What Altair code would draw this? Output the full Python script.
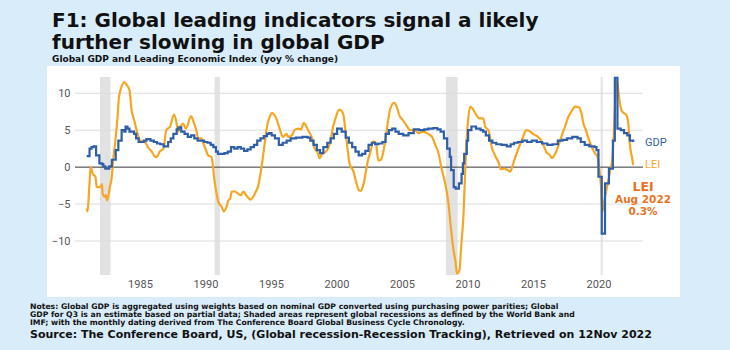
import altair as alt
import pandas as pd

# ---------------- data ----------------
lei_year = [1980.93, 1981.0, 1981.13, 1981.23, 1981.4, 1981.6, 1981.7, 1981.95, 1982.1, 1982.15,
            1982.3, 1982.4, 1982.5, 1982.7, 1982.85, 1982.95, 1983.1, 1983.27, 1983.4, 1983.6,
            1983.8, 1984.0, 1984.2, 1984.36, 1984.55, 1984.75, 1985.0, 1985.4, 1985.6, 1985.9,
            1986.15, 1986.3, 1986.5, 1986.8, 1987.0, 1987.3, 1987.4, 1987.6, 1987.8, 1987.9,
            1988.1, 1988.3, 1988.5, 1988.9, 1989.1, 1989.3, 1989.45, 1989.7, 1989.8, 1990.0,
            1990.2, 1990.45, 1990.55, 1990.65, 1990.85, 1990.98, 1991.25, 1991.4, 1991.6, 1991.75,
            1991.9, 1992.0, 1992.25, 1992.5, 1992.7, 1992.9, 1993.1, 1993.3, 1993.45, 1993.65,
            1993.85, 1994.0, 1994.2, 1994.35, 1994.55, 1994.7, 1994.9, 1995.1, 1995.4, 1995.7,
            1995.9, 1996.2, 1996.3, 1996.6, 1996.8, 1997.1, 1997.3, 1997.5, 1997.7, 1997.9,
            1998.1, 1998.3, 1998.6, 1998.7, 1998.9, 1999.2, 1999.5, 1999.75, 2000.0, 2000.2,
            2000.5, 2000.65, 2000.8, 2001.0, 2001.3, 2001.5, 2001.7, 2001.85, 2002.05, 2002.25,
            2002.4, 2002.6, 2002.8, 2003.0, 2003.2, 2003.4, 2003.6, 2003.8, 2003.95, 2004.1,
            2004.4, 2004.6, 2004.8, 2005.05, 2005.4, 2005.6, 2006.0, 2006.25, 2006.6, 2007.0,
            2007.3, 2007.5, 2007.8, 2008.0, 2008.3, 2008.55, 2008.7, 2008.9, 2009.1, 2009.2,
            2009.4, 2009.5, 2009.7, 2009.8, 2009.9, 2010.05, 2010.2, 2010.4, 2010.7, 2010.9,
            2011.2, 2011.35, 2011.6, 2011.85, 2012.1, 2012.4, 2012.55, 2012.8, 2013.05, 2013.25,
            2013.5, 2013.7, 2014.0, 2014.2, 2014.5, 2014.8, 2015.0, 2015.3, 2015.5, 2015.8,
            2016.0, 2016.3, 2016.45, 2016.7, 2017.0, 2017.2, 2017.45, 2017.7, 2018.0, 2018.2,
            2018.5, 2018.7, 2018.85, 2019.05, 2019.2, 2019.5, 2019.75, 2019.9, 2020.05, 2020.2,
            2020.3, 2020.4, 2020.55, 2020.75, 2020.9, 2021.05, 2021.2, 2021.3, 2021.4, 2021.6,
            2021.75, 2021.95, 2022.15, 2022.3, 2022.4, 2022.55, 2022.65]
lei_value = [-5.6, -6.0, -2.7, 0.0, -0.9, -1.3, -2.7, -2.7, -2.3, -3.6,
             -4.0, -3.8, -4.5, -2.7, -1.3, 0.9, 3.2, 6.4, 9.5, 10.9,
             11.5, 11.1, 10.4, 7.7, 6.4, 5.0, 3.6, 3.4, 2.7, 2.1,
             1.4, 1.4, 2.1, 2.5, 5.0, 5.5, 6.1, 7.1, 5.9, 4.8,
             5.5, 5.9, 5.2, 6.9, 6.1, 5.0, 3.9, 3.9, 3.4, 2.5,
             1.6, 1.4, 0.5, -1.3, -3.6, -4.7, -5.4, -6.0, -5.4, -4.5,
             -4.2, -3.3, -3.3, -3.6, -3.8, -3.3, -3.8, -4.2, -4.4, -4.0,
             -3.3, -2.7, -0.9, 0.9, 3.6, 5.5, 6.8, 7.3, 6.6, 5.0,
             4.1, 4.5, 4.1, 4.3, 5.0, 5.2, 5.1, 6.0, 5.5, 4.8,
             4.1, 2.7, 1.8, 1.2, 1.8, 2.1, 3.2, 5.5, 7.0, 7.8,
             7.3, 5.5, 3.2, 0.5, -0.6, -2.0, -3.1, -3.2, -2.4, -0.6,
             0.9, 2.1, 3.5, 3.3, 0.9, 1.0, 2.3, 4.5, 6.4, 7.9,
             8.7, 8.2, 7.0, 6.4, 5.5, 5.0, 5.0, 4.6, 4.8, 4.5,
             4.1, 3.2, 1.8, 0.0, -2.2, -4.9, -7.6, -10.8, -13.0, -14.4,
             -13.9, -11.2, -6.3, -1.8, 2.7, 6.4, 8.2, 7.9, 7.0, 6.6,
             6.6, 5.5, 5.0, 2.7, 1.6, 0.5, -0.3, -0.2, -0.4, -0.6,
             0.5, 1.6, 3.0, 3.9, 5.0, 4.8, 4.5, 4.2, 3.9, 3.0,
             2.1, 1.6, 1.2, 1.8, 3.2, 4.3, 5.5, 6.8, 7.7, 8.2,
             8.1, 7.3, 5.9, 5.0, 4.1, 2.7, 1.8, 1.6, 0.0, -2.7,
             -6.0, -5.0, -3.6, -1.8, -0.4, 0.9, 5.5, 10.0, 11.8, 9.1,
             7.7, 7.3, 7.0, 5.5, 3.0, 1.4, 0.3]

gdp_year = [1980.93, 1981.15, 1981.3, 1981.45, 1981.65, 1981.9, 1982.1, 1982.2, 1982.35, 1982.65,
            1982.85, 1983.15, 1983.35, 1983.6, 1983.8, 1983.9, 1984.05, 1984.2, 1984.55, 1984.7,
            1984.9, 1985.3, 1985.5, 1985.8, 1986.05, 1986.3, 1986.55, 1986.8, 1987.15, 1987.35,
            1987.55, 1987.8, 1987.95, 1988.15, 1988.4, 1988.65, 1988.9, 1989.15, 1989.4, 1989.9,
            1990.15, 1990.4, 1990.6, 1990.8, 1990.95, 1991.45, 1991.7, 1991.95, 1992.2, 1992.45,
            1992.7, 1992.95, 1993.2, 1993.45, 1993.7, 1993.95, 1994.2, 1994.45, 1994.7, 1994.85,
            1995.05, 1995.3, 1995.6, 1995.9, 1996.2, 1996.5, 1996.9, 1997.4, 1997.8, 1998.0,
            1998.25, 1998.5, 1998.75, 1999.0, 1999.3, 1999.55, 1999.8, 2000.05, 2000.4, 2000.7,
            2000.95, 2001.2, 2001.45, 2001.7, 2001.95, 2002.2, 2002.45, 2002.7, 2002.95, 2003.2,
            2003.5, 2003.75, 2004.0, 2004.25, 2004.5, 2004.75, 2005.1, 2005.5, 2005.9, 2006.3,
            2006.7, 2007.0, 2007.4, 2007.7, 2007.95, 2008.2, 2008.45, 2008.65, 2008.75, 2008.95,
            2009.1, 2009.35, 2009.55, 2009.65, 2009.75, 2009.95, 2010.05, 2010.3, 2010.65, 2011.0,
            2011.2, 2011.4, 2011.65, 2011.9, 2012.2, 2012.6, 2013.0, 2013.3, 2013.55, 2013.85,
            2014.2, 2014.55, 2014.9, 2015.3, 2015.7, 2016.1, 2016.5, 2016.9, 2017.25, 2017.6,
            2018.0, 2018.4, 2018.65, 2018.95, 2019.3, 2019.7, 2019.85, 2020.0, 2020.25, 2020.5,
            2020.8, 2021.1, 2021.25, 2021.45, 2021.7, 2021.95, 2022.2, 2022.4, 2022.65]
gdp_value = [1.5, 2.5, 2.7, 2.8, 1.6, 0.5, 0.4, 0.1, -0.2, 0.1,
             1.0, 2.3, 3.6, 5.0, 4.8, 5.5, 5.2, 4.8, 4.5, 3.9,
             3.4, 3.6, 3.8, 3.6, 3.4, 3.2, 3.1, 2.8, 3.4, 3.9,
             4.5, 5.1, 5.4, 4.8, 4.5, 4.1, 4.3, 3.9, 3.6, 3.4,
             3.3, 3.0, 2.7, 2.1, 1.8, 1.9, 2.1, 2.7, 2.5, 2.7,
             2.5, 2.2, 2.4, 2.7, 3.0, 3.6, 3.9, 4.2, 4.5, 4.6,
             4.3, 3.9, 3.0, 3.3, 3.6, 3.9, 4.0, 4.1, 4.0, 3.6,
             3.0, 2.3, 1.9, 2.7, 3.3, 3.9, 4.5, 5.2, 4.8, 4.0,
             3.3, 2.7, 2.1, 1.6, 1.8, 2.2, 3.0, 3.3, 3.1, 3.2,
             3.4, 4.5, 5.0, 5.2, 4.8, 4.5, 4.3, 4.6, 5.1, 5.0,
             5.1, 5.2, 5.3, 5.1, 4.8, 3.9, 2.5, 1.4, -0.4, -2.7,
             -2.9, -2.2, -0.9, 0.5, 1.8, 3.6, 5.0, 5.5, 5.2, 5.0,
             4.8, 4.3, 3.6, 3.3, 3.1, 3.0, 2.8, 3.1, 3.3, 3.4,
             3.6, 3.4, 3.6, 3.4, 3.2, 3.0, 3.1, 3.6, 3.7, 3.9,
             4.1, 3.9, 3.4, 3.0, 2.8, 2.7, 2.3, -1.3, -9.0, -2.2,
             -0.2, 3.6, 12.1, 5.2, 5.0, 4.6, 4.3, 3.6, 3.4]

rec_start = [1981.95, 1990.7, 2008.35, 2020.17]
rec_end = [1982.75, 1991.1, 2009.25, 2020.32]

x_ticks = [1985, 1990, 1995, 2000, 2005, 2010, 2015, 2020]
y_ticks = [-10, -5, 5, 10]

series_names = ["GDP", "LEI"]
series_label_value = [3.2, 0.3]
series_colors = ["#2f5fa8", "#f5a623"]

annot_lines = ["LEI", "Aug 2022", "0.3%"]
annot_value = [-2.7, -4.5, -6.1]
annot_size = [12.5, 10.5, 10.5]

title_lines = ["F1: Global leading indicators signal a likely", "further slowing in global GDP"]
subtitle = "Global GDP and Leading Economic Index (yoy % change)"
notes = ["Notes: Global GDP is aggregated using weights based on nominal GDP converted using purchasing power parities; Global",
         "GDP for Q3 is an estimate based on partial data; Shaded areas represent global recessions as defined by the World Bank and",
         "IMF; with the monthly dating derived from The Conference Board Global Business Cycle Chronology."]
source = "Source: The Conference Board, US, (Global recession-Recession Tracking), Retrieved on 12Nov 2022"

X_DOM = [1980.04, 2023.4]
Y_DOM = [-14.6, 12.2]
W, H = 568, 198

# ---------------- frames ----------------
lei_df = pd.DataFrame({"year": lei_year, "value": lei_value, "series": "LEI"})
gdp_df = pd.DataFrame({"year": gdp_year, "value": gdp_value, "series": "GDP"})
rec_df = pd.DataFrame({"start": rec_start, "end": rec_end})
grid_df = pd.DataFrame({"v": y_ticks})
lab_df = pd.DataFrame({"series": series_names, "value": series_label_value,
                       "year": [X_DOM[1]] * 2, "color": series_colors})
ann_df = pd.DataFrame({"t": annot_lines, "value": annot_value, "size": annot_size,
                       "year": [X_DOM[1]] * 3})

xs = alt.Scale(domain=X_DOM, nice=False, zero=False)
ys = alt.Scale(domain=Y_DOM, nice=False, zero=False)

base_x = alt.X("year:Q", scale=xs,
               axis=alt.Axis(values=x_ticks, format="d", grid=False, domain=False, ticks=False,
                             labelFont="Roboto", labelFontSize=11, labelColor="#555",
                             labelPadding=3, title=None, zindex=1))
base_y = alt.Y("value:Q", scale=ys,
               axis=alt.Axis(values=[-10, -5, 0, 5, 10], grid=False, domain=False, ticks=False,
                             labelFont="Roboto", labelFontSize=11, labelColor="#555",
                             labelPadding=5, title=None, zindex=1))

panel = alt.Chart(pd.DataFrame({"a": [0]})).mark_rect(color="white").encode(
    x=alt.value(-28), x2=alt.value(605), y=alt.value(-11), y2=alt.value(220))

bands = alt.Chart(rec_df).mark_rect(color="#e2e2e2").encode(
    x=alt.X("start:Q", scale=xs), x2="end:Q")

grid = alt.Chart(grid_df).mark_rule(color="#dcdcdc", strokeWidth=1).encode(
    y=alt.Y("v:Q", scale=ys))

zero = alt.Chart(pd.DataFrame({"v": [0]})).mark_rule(color="#333333", strokeWidth=1).encode(
    y=alt.Y("v:Q", scale=ys))

lei_line = alt.Chart(lei_df).mark_line(color="#f5a623", strokeWidth=2.2,
                                       interpolate="monotone").encode(x=base_x, y=base_y)
gdp_line = alt.Chart(gdp_df).mark_line(color="#2f5fa8", strokeWidth=2.2,
                                       interpolate="step-after").encode(
    x=alt.X("year:Q", scale=xs), y=alt.Y("value:Q", scale=ys))

labels = alt.Chart(lab_df).mark_text(align="left", baseline="middle", font="Roboto",
                                     fontSize=11, dx=2).encode(
    x=alt.X("year:Q", scale=xs), y=alt.Y("value:Q", scale=ys),
    text="series:N", color=alt.Color("color:N", scale=None))

annot = alt.Chart(ann_df).mark_text(align="center", baseline="middle", font="DejaVu Sans",
                                    fontWeight="bold", color="#e8731e").encode(
    x=alt.X("year:Q", scale=xs), y=alt.Y("value:Q", scale=ys), text="t:N",
    size=alt.Size("size:Q", scale=None))

notes_txt = alt.Chart(pd.DataFrame({"t": ["\n".join(notes)]})).mark_text(
    align="left", baseline="alphabetic", font="DejaVu Sans", fontWeight="bold",
    fontSize=7.7, lineBreak="\n", lineHeight=7.9, color="#111").encode(
    x=alt.value(-45), y=alt.value(232), text="t:N")

source_txt = alt.Chart(pd.DataFrame({"t": [source]})).mark_text(
    align="left", baseline="alphabetic", font="DejaVu Sans", fontWeight="bold",
    fontSize=11, color="#111").encode(
    x=alt.value(-45), y=alt.value(261), text="t:N")

chart = alt.layer(panel, bands, grid, zero, lei_line, gdp_line, labels, annot,
                  notes_txt, source_txt).properties(
    width=W, height=H,
    autosize=alt.AutoSizeParams(type="none"),
    padding={"left": 75, "top": 77, "right": 87, "bottom": 75},
    background="#d9ecfa",
    title=alt.TitleParams(
        text=title_lines, subtitle=subtitle, anchor="start", frame="group",
        dx=-23, offset=2, font="DejaVu Sans", fontSize=20, fontWeight="bold",
        color="#111111", lineHeight=22, subtitleFont="DejaVu Sans", subtitleFontSize=9,
        subtitleFontWeight="bold", subtitleColor="#111111", subtitlePadding=2),
).configure_view(strokeWidth=0)

chart.save("out.html", embed_options={"renderer": "svg", "actions": False})
